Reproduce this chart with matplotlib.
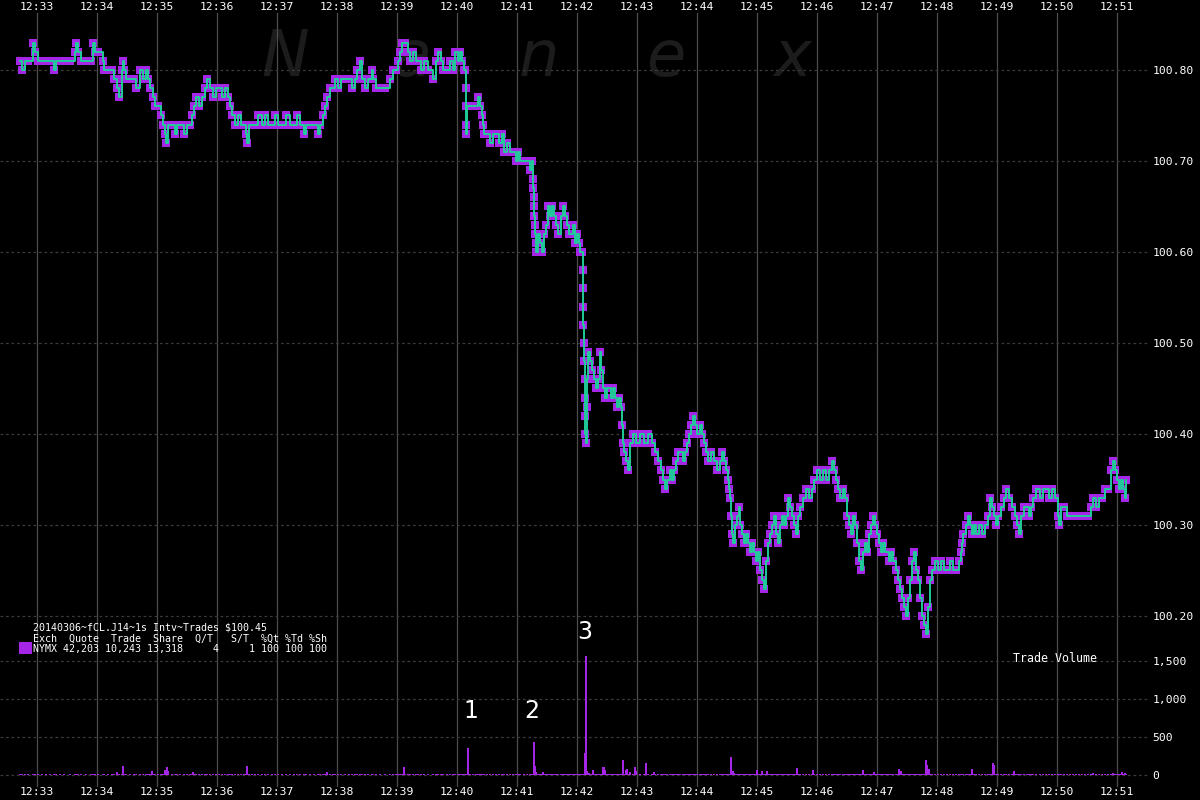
import matplotlib
matplotlib.use('Agg')
import matplotlib.pyplot as plt
from matplotlib.patches import Rectangle

PURPLE = '#a526e6'
GREEN = '#20cc99'
VGRID = '#4d4d4d'
HGRID = '#3a3a3a'

# (seconds after 12:32:00, trade price)
trades = [
    (43, 100.81), (45, 100.80), (48, 100.81), (51, 100.81), (56, 100.83), (58, 100.82), (61, 100.81),
    (65, 100.81), (69, 100.81), (73, 100.81), (77, 100.80), (79, 100.81), (83, 100.81), (87, 100.81),
    (93, 100.81), (98, 100.82), (99, 100.83), (101, 100.82), (104, 100.81), (109, 100.81), (114, 100.81),
    (116, 100.83), (118, 100.82),
    # 12:34
    (121, 100.82), (126, 100.81), (127, 100.80), (131, 100.80), (135, 100.80), (137, 100.79), (140, 100.78),
    (142, 100.77), (145, 100.79), (145, 100.80), (146, 100.81), (147, 100.80), (149, 100.79), (153, 100.79),
    (157, 100.79), (159, 100.78), (163, 100.80), (166, 100.79), (169, 100.80), (171, 100.79), (173, 100.78),
    (176, 100.77), (178, 100.76),
    # 12:35
    (181, 100.76), (184, 100.75), (186, 100.74), (188, 100.73), (189, 100.72), (191, 100.74), (195, 100.74),
    (198, 100.73), (200, 100.74), (203, 100.74), (207, 100.73), (210, 100.74), (213, 100.74), (215, 100.75),
    (217, 100.76), (219, 100.77), (222, 100.76), (225, 100.77), (228, 100.78), (230, 100.79), (233, 100.78),
    (236, 100.77), (239, 100.78),
    # 12:36
    (242, 100.78), (245, 100.77), (248, 100.78), (251, 100.77), (253, 100.76), (255, 100.75), (258, 100.74),
    (261, 100.75), (264, 100.74), (267, 100.74), (269, 100.73), (270, 100.72), (272, 100.74), (275, 100.74),
    (278, 100.74), (281, 100.75), (285, 100.74), (288, 100.75), (291, 100.74), (295, 100.74), (298, 100.75),
    # 12:37
    (301, 100.74), (305, 100.74), (309, 100.75), (313, 100.74), (317, 100.74), (320, 100.75), (323, 100.74),
    (327, 100.73), (329, 100.74), (333, 100.74), (337, 100.74), (341, 100.73), (343, 100.74), (346, 100.75),
    (348, 100.76), (350, 100.77), (353, 100.78), (356, 100.78), (358, 100.79),
    # 12:38
    (361, 100.78), (364, 100.79), (368, 100.79), (372, 100.79), (375, 100.78), (378, 100.79), (380, 100.80),
    (383, 100.81), (385, 100.79), (388, 100.78), (391, 100.79), (395, 100.80), (396, 100.79), (399, 100.78),
    (403, 100.78), (408, 100.78), (413, 100.79), (416, 100.80), (419, 100.80),
    # 12:39
    (421, 100.81), (423, 100.82), (425, 100.83), (428, 100.83), (431, 100.82), (433, 100.81), (436, 100.82),
    (439, 100.81), (441, 100.81), (444, 100.80), (447, 100.81), (451, 100.80), (456, 100.79), (459, 100.81),
    (461, 100.82), (464, 100.81), (466, 100.80), (470, 100.80), (473, 100.81), (476, 100.80), (478, 100.82),
    # 12:40
    (481, 100.81), (483, 100.82), (485, 100.81), (487, 100.80), (488, 100.80), (489, 100.78), (489, 100.76),
    (489, 100.74), (489, 100.73), (490, 100.76), (493, 100.76), (496, 100.76), (499, 100.76), (501, 100.77),
    (503, 100.76), (505, 100.75), (506, 100.74), (507, 100.73), (510, 100.73), (513, 100.72), (516, 100.73),
    (519, 100.73), (522, 100.72), (525, 100.73), (527, 100.71), (530, 100.72), (533, 100.71), (536, 100.71),
    (539, 100.70),
    # 12:41
    (541, 100.71), (543, 100.70), (547, 100.70), (550, 100.70), (553, 100.69), (555, 100.70), (556, 100.68),
    (556, 100.67), (557, 100.66), (557, 100.65), (557, 100.64), (558, 100.63), (558, 100.62), (559, 100.61),
    (559, 100.60), (561, 100.62), (563, 100.61), (565, 100.60), (567, 100.62), (569, 100.63), (571, 100.65),
    (573, 100.64), (575, 100.65), (577, 100.64), (579, 100.63), (581, 100.62), (584, 100.64), (586, 100.65),
    (588, 100.64), (590, 100.63), (592, 100.62), (594, 100.62), (596, 100.63), (598, 100.61),
    # 12:42
    (600, 100.62), (602, 100.61), (603, 100.60), (605, 100.60), (606, 100.58), (606, 100.56), (606, 100.54),
    (606, 100.52), (607, 100.50), (607, 100.48), (608, 100.46), (608, 100.44), (608, 100.42), (608, 100.40),
    (609, 100.39), (610, 100.43), (610, 100.46), (611, 100.49), (613, 100.48), (615, 100.47), (617, 100.46),
    (619, 100.45), (621, 100.46), (623, 100.49), (624, 100.47), (626, 100.45), (628, 100.44), (630, 100.45),
    (632, 100.45), (634, 100.44), (636, 100.45), (638, 100.44), (640, 100.43), (642, 100.44), (644, 100.43),
    (645, 100.41), (646, 100.39), (647, 100.38), (649, 100.37), (651, 100.36), (653, 100.39), (656, 100.40),
    (659, 100.39),
    # 12:43
    (663, 100.40), (667, 100.39), (671, 100.40), (675, 100.39), (678, 100.38), (681, 100.37), (684, 100.36),
    (686, 100.35), (688, 100.34), (690, 100.35), (693, 100.36), (695, 100.35), (697, 100.36), (699, 100.37),
    (701, 100.38), (703, 100.38), (706, 100.37), (708, 100.38), (710, 100.39), (712, 100.40), (714, 100.41),
    (716, 100.42), (718, 100.41),
    # 12:44
    (720, 100.40), (723, 100.41), (725, 100.40), (727, 100.39), (729, 100.38), (731, 100.37), (734, 100.38),
    (737, 100.37), (740, 100.36), (743, 100.37), (745, 100.38), (747, 100.37), (749, 100.36), (751, 100.35),
    (752, 100.34), (753, 100.33), (754, 100.31), (755, 100.29), (756, 100.28), (758, 100.30), (760, 100.31),
    (762, 100.32), (763, 100.30), (765, 100.29), (767, 100.28), (769, 100.29), (771, 100.28), (773, 100.27),
    (775, 100.28), (777, 100.27), (779, 100.26),
    # 12:45
    (781, 100.27), (783, 100.25), (785, 100.24), (787, 100.23), (789, 100.26), (791, 100.28), (793, 100.29),
    (795, 100.30), (797, 100.31), (799, 100.29), (801, 100.28), (803, 100.30), (805, 100.31), (807, 100.30),
    (809, 100.31), (811, 100.33), (813, 100.32), (815, 100.31), (817, 100.30), (819, 100.29), (821, 100.31),
    (823, 100.32), (826, 100.33), (829, 100.34), (832, 100.33), (835, 100.34), (837, 100.35),
    # 12:46
    (840, 100.36), (843, 100.35), (846, 100.36), (849, 100.35), (852, 100.36), (855, 100.37), (857, 100.36),
    (859, 100.35), (861, 100.34), (863, 100.33), (866, 100.34), (868, 100.33), (870, 100.31), (872, 100.30),
    (874, 100.29), (876, 100.31), (878, 100.30), (880, 100.28), (882, 100.26), (884, 100.25), (886, 100.27),
    (888, 100.28), (890, 100.27), (892, 100.29), (894, 100.30), (896, 100.31), (898, 100.30),
    # 12:47
    (900, 100.29), (902, 100.28), (904, 100.27), (906, 100.28), (908, 100.27), (910, 100.27), (912, 100.26),
    (914, 100.27), (916, 100.26), (919, 100.25), (921, 100.24), (923, 100.23), (925, 100.22), (927, 100.21),
    (929, 100.20), (931, 100.22), (933, 100.24), (935, 100.26), (937, 100.27), (939, 100.25), (941, 100.24),
    (943, 100.22), (945, 100.20), (947, 100.19), (949, 100.18), (951, 100.21), (953, 100.24), (955, 100.25),
    (958, 100.26),
    # 12:48
    (961, 100.25), (964, 100.26), (967, 100.25), (970, 100.25), (973, 100.26), (976, 100.25), (979, 100.25),
    (982, 100.26), (984, 100.27), (985, 100.28), (986, 100.29), (989, 100.30), (991, 100.31), (993, 100.30),
    (995, 100.29), (997, 100.30), (999, 100.29), (1002, 100.30), (1005, 100.29), (1008, 100.30),
    (1011, 100.31), (1013, 100.33), (1015, 100.32), (1017, 100.31),
    # 12:49
    (1019, 100.30), (1021, 100.31), (1024, 100.32), (1027, 100.33), (1029, 100.34), (1032, 100.33),
    (1035, 100.32), (1038, 100.31), (1040, 100.30), (1042, 100.29), (1044, 100.31), (1047, 100.32),
    (1050, 100.32), (1052, 100.31), (1054, 100.32), (1056, 100.33), (1059, 100.34), (1063, 100.33),
    (1066, 100.34), (1069, 100.34), (1072, 100.33), (1075, 100.34), (1078, 100.33),
    # 12:50
    (1081, 100.31), (1082, 100.30), (1084, 100.32), (1087, 100.32), (1090, 100.31), (1093, 100.31),
    (1096, 100.31), (1099, 100.31), (1102, 100.31), (1105, 100.31), (1108, 100.31), (1111, 100.31),
    (1114, 100.32), (1116, 100.33), (1119, 100.32), (1122, 100.33), (1125, 100.33), (1128, 100.34),
    (1131, 100.34), (1134, 100.36), (1136, 100.37), (1138, 100.36),
    # 12:51
    (1140, 100.35), (1142, 100.34), (1144, 100.35), (1146, 100.34), (1148, 100.33), (1149, 100.35),
]

# larger volume prints (seconds after 12:32:00, shares)
vol_sec = [140, 146, 175, 188, 190, 191, 216, 270, 350, 427, 491, 557, 558, 559, 566,
           608, 609, 610, 612, 616, 626, 627, 628, 646, 649, 650, 653, 658, 659, 669, 677,
           754, 756, 757, 780, 785, 790, 820, 836, 886, 897, 922, 924, 949, 950, 952,
           995, 1016, 1017, 1037, 1116, 1136, 1145, 1148]
vol_qty = [40, 118, 50, 60, 100, 50, 40, 118, 40, 100, 360, 440, 120, 40, 40,
           295, 1570, 50, 30, 65, 100, 110, 60, 200, 65, 80, 40, 110, 50, 160, 40,
           240, 50, 30, 65, 50, 50, 95, 65, 65, 40, 80, 50, 200, 130, 80,
           80, 160, 130, 55, 25, 25, 35, 30]
odd_lot = 15  # the small prints under every trade second

time_ticks = [60 * i for i in range(1, 20)]
time_labels = ['12:%02d' % (32 + i) for i in range(1, 20)]
price_ticks = [100.20, 100.30, 100.40, 100.50, 100.60, 100.70, 100.80]
vol_ticks = [0, 500, 1000, 1500]

legend_lines = [
    '20140306~fCL.J14~1s Intv~Trades $100.45',
    'Exch  Quote  Trade  Share  Q/T   S/T  %Qt %Td %Sh',
    'NYMX 42,203 10,243 13,318     4     1 100 100 100',
]
callouts = [('1', 494, 842), ('2', 555, 842), ('3', 608, 1882)]
watermark = ['N', 'a', 'n', 'e', 'x']

t = [a for a, b in trades]
p = [b for a, b in trades]

W, H = 1200, 800
fig = plt.figure(figsize=(12, 8), dpi=100, facecolor='black')
ax = fig.add_axes([0, 160 / H, 1148 / W, 627 / H])
axv = fig.add_axes([0, 13 / H, 1148 / W, 147 / H])

mono = 'DejaVu Sans Mono'
for a in (ax, axv):
    a.set_facecolor('black')
    for s in a.spines.values():
        s.set_visible(False)
    a.set_xlim(23, 1171)
    a.set_xticks(time_ticks, time_labels)
    a.set_axisbelow(True)
    a.grid(axis='x', color=VGRID, lw=0.9, ls='-')
    a.grid(axis='y', color=HGRID, lw=0.9, ls=(0, (2.2, 2.2)))
    a.yaxis.tick_right()
    a.tick_params(length=0, colors='white', labelsize=8.2)
    a.tick_params(axis='y', pad=3)

ax.xaxis.tick_top()
ax.tick_params(axis='x', pad=1)
axv.tick_params(axis='x', pad=0)

# price panel: 910 px per dollar, 100.80 at y=70
ax.set_ylim(100.80 - 570 / 910, 100.80 + 57 / 910)
ax.set_yticks(price_ticks, ['%.2f' % v for v in price_ticks])

ax.plot(t, p, ls='none', marker='s', ms=6.2, mew=0, color=PURPLE, zorder=3)
ax.plot(t, p, drawstyle='steps-post', color=GREEN, lw=1.4, zorder=4)

for i, ch in enumerate(watermark):
    ax.text((285 + 127 * i) / W, 1 - 76 / H, ch, transform=fig.transFigure, ha='center',
            va='baseline', fontsize=46, fontstyle='italic', color='#1c1c1c', zorder=0.2)

# volume panel: 0 at y=775, 0.076 px per share
axv.set_ylim(-12 / 0.076, 135 / 0.076)
axv.set_yticks(vol_ticks, ['{:,}'.format(v) for v in vol_ticks])
axv.bar(sorted(set(t)), odd_lot, width=1.2, color=PURPLE, lw=0, zorder=3)
axv.bar(vol_sec, vol_qty, width=1.2, color=PURPLE, lw=0, zorder=3)

for a in (ax, axv):
    for lab in a.get_xticklabels() + a.get_yticklabels():
        lab.set_fontfamily(mono)

for s, x, y in callouts:
    axv.text(x, y, s, ha='center', va='center', color='white', fontsize=17,
             family='DejaVu Sans', clip_on=False, zorder=5)

fig.text(1013 / W, 1 - 659 / H, 'Trade Volume', color='white', fontsize=8.4,
         family=mono, va='center', ha='left')

for i, line in enumerate(legend_lines):
    fig.text(33 / W, 1 - (628 + 10.5 * i) / H, line, color='white', fontsize=7.2,
             family=mono, va='center', ha='left')
fig.add_artist(Rectangle((19 / W, 1 - 654 / H), 13 / W, 12 / H, transform=fig.transFigure,
                         color=PURPLE, lw=0))

fig.savefig('out.png', dpi=100, facecolor='black')
